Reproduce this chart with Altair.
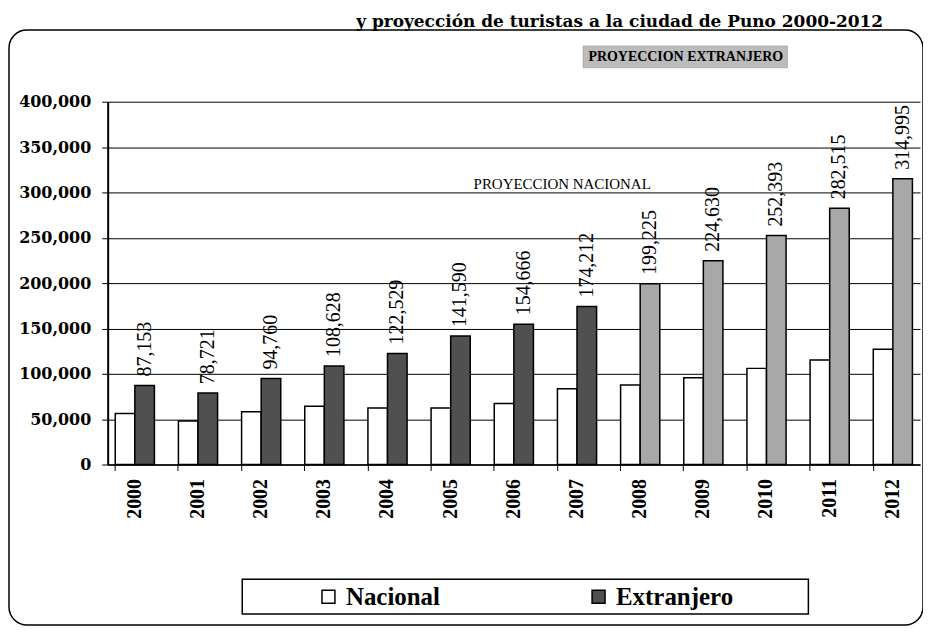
import altair as alt
import pandas as pd

years = ["2000", "2001", "2002", "2003", "2004", "2005", "2006",
         "2007", "2008", "2009", "2010", "2011", "2012"]
nacional = [56200, 48000, 58300, 64300, 62200, 62200, 67300,
            83500, 87700, 95600, 106000, 115300, 127000]
extranjero = [87153, 78721, 94760, 108628, 122529, 141590, 154666,
              174212, 199225, 224630, 252393, 282515, 314995]
projection_years = ["2008", "2009", "2010", "2011", "2012"]
series = ["Nacional", "Extranjero"]
fill_domain = ["Nacional", "Extranjero", "Extranjero proyección"]
fill_range = ["white", "#505050", "#a8a8a8"]
y_ticks = [0, 50000, 100000, 150000, 200000, 250000, 300000, 350000, 400000]
title_text = "y proyección de turistas a la ciudad de Puno 2000-2012"
note_nac = "PROYECCION NACIONAL"
note_ext = "PROYECCION EXTRANJERO"

rows = []
for i, y in enumerate(years):
    rows.append({"year": y, "serie": "Nacional", "valor": nacional[i], "tipo": "Nacional"})
    tipo = "Extranjero proyección" if y in projection_years else "Extranjero"
    rows.append({"year": y, "serie": "Extranjero", "valor": extranjero[i], "tipo": tipo})
df = pd.DataFrame(rows)

SERIF = "Liberation Serif"
WIDE = "DejaVu Serif"

x_enc = alt.X("year:N", sort=years,
              scale=alt.Scale(paddingInner=0.38, paddingOuter=0.12),
              axis=alt.Axis(title=None, labelAngle=-90, labelFont=SERIF,
                            labelFontWeight="bold", labelFontSize=20,
                            labelColor="black", domainColor="black",
                            domainWidth=1.5, tickColor="black", tickSize=6,
                            bandPosition=0, labelPadding=8))
xo_enc = alt.XOffset("serie:N", sort=series,
                     scale=alt.Scale(paddingInner=0, paddingOuter=0))
y_enc = alt.Y("valor:Q", scale=alt.Scale(domain=[0, 400000]),
              axis=alt.Axis(title=None, values=y_ticks,
                            format=",d", grid=True, gridColor="black",
                            gridWidth=1, labelFont=WIDE,
                            labelFontWeight="bold", labelFontSize=16,
                            labelColor="black", domainColor="black",
                            domainWidth=2, tickColor="black", tickSize=6,
                            labelPadding=11))

base = alt.Chart(df)

bars = base.mark_bar(stroke="black", strokeWidth=1.5).encode(
    x=x_enc,
    xOffset=xo_enc,
    y=y_enc,
    fill=alt.Fill("tipo:N",
                  scale=alt.Scale(domain=fill_domain, range=fill_range),
                  legend=alt.Legend(values=series, title=None, orient="none",
                                    legendX=209, legendY=484,
                                    direction="horizontal", columns=2,
                                    columnPadding=146, symbolType="square",
                                    symbolSize=169, symbolStrokeColor="black",
                                    symbolStrokeWidth=1.5, labelFont=SERIF,
                                    labelFontWeight="bold", labelFontSize=25,
                                    labelColor="black", labelOffset=5,
                                    labelLimit=300, padding=0)),
)

labels = base.transform_filter(alt.datum.serie == "Extranjero").mark_text(
    angle=270, align="left", baseline="middle", dx=9,
    font=SERIF, fontSize=20, color="black"
).encode(
    x=x_enc,
    xOffset=xo_enc,
    y=y_enc,
    text=alt.Text("valor:Q", format=","),
)

one = alt.Chart(pd.DataFrame({"t": [title_text]}))
frame = one.mark_rect(fillOpacity=0, stroke="black", strokeWidth=1.5,
                      cornerRadius=18).encode(
    x=alt.value(-99), x2=alt.value(818), y=alt.value(-72), y2=alt.value(525))
legend_box = one.mark_rect(fillOpacity=0, stroke="black", strokeWidth=1.5).encode(
    x=alt.value(135), x2=alt.value(703), y=alt.value(479), y2=alt.value(514))
title = one.mark_text(align="right", baseline="alphabetic", font=WIDE,
                      fontWeight="bold", fontSize=17, color="black").encode(
    x=alt.value(778), y=alt.value(-75), text="t:N")

ext_df = pd.DataFrame({"t": [note_ext]})
ext_bg = alt.Chart(ext_df).mark_rect(fill="#bcbcbc", stroke="#888888",
                                     strokeWidth=0.5).encode(
    x=alt.value(477), x2=alt.value(682), y=alt.value(-56), y2=alt.value(-34))
ext_txt = alt.Chart(ext_df).mark_text(align="center", baseline="middle",
                                      font=SERIF, fontWeight="bold",
                                      fontSize=14, color="black").encode(
    x=alt.value(580), y=alt.value(-45), text="t:N")
nac_txt = alt.Chart(pd.DataFrame({"t": [note_nac]})).mark_text(
    align="center", baseline="middle", font=SERIF, fontSize=15,
    color="black").encode(x=alt.value(456), y=alt.value(83), text="t:N")

chart = alt.layer(frame, legend_box, title, ext_bg, ext_txt, bars, labels,
                  nac_txt).properties(
    width=815, height=364,
    autosize=alt.AutoSizeParams(type="none"),
    padding={"left": 100, "top": 93, "right": 3, "bottom": 162},
    background="white",
).configure_view(stroke="transparent")

chart.save("out.html", embed_options={"renderer": "svg", "actions": False})
